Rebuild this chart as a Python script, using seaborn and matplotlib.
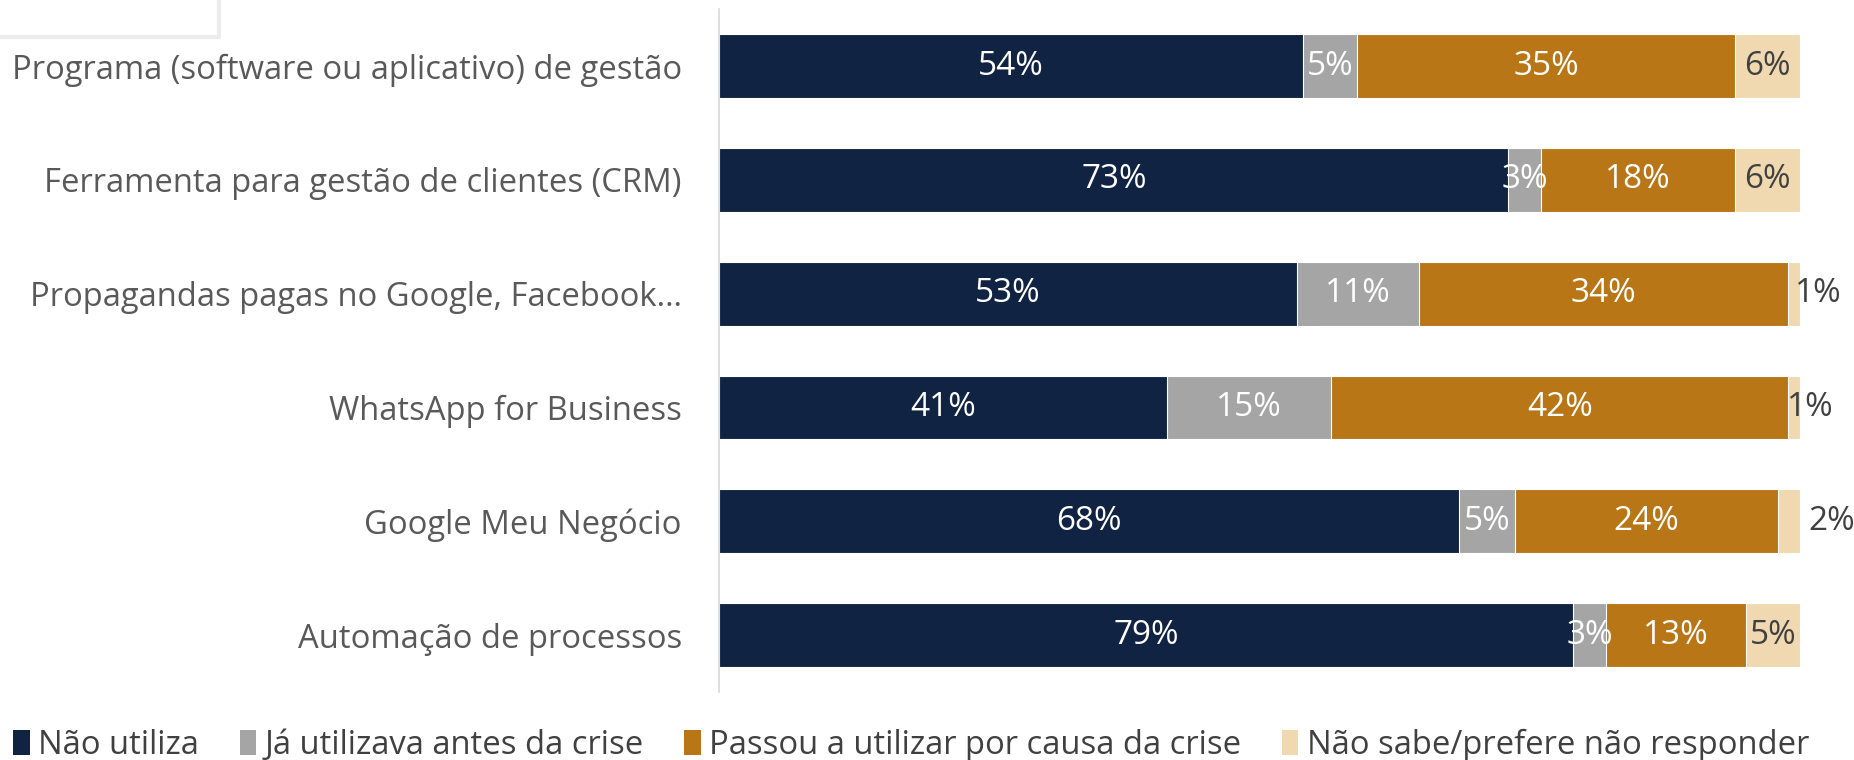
import pandas as pd
import matplotlib.pyplot as plt
import seaborn as sns
from matplotlib.patches import Patch, Rectangle

categorias = ['Programa (software ou aplicativo) de gestão',
              'Ferramenta para gestão de clientes (CRM)',
              'Propagandas pagas no Google, Facebook…',
              'WhatsApp for Business',
              'Google Meu Negócio',
              'Automação de processos']
nao_utiliza = [54, 73, 53.4, 41.4, 68.4, 79]
ja_utilizava = [5, 3, 11.3, 15.2, 5.2, 3]
passou_utilizar = [35, 18, 34.2, 42.3, 24.3, 13]
nao_sabe = [6, 6, 1.1, 1.1, 2.1, 5]
series = ['Não utiliza', 'Já utilizava antes da crise',
          'Passou a utilizar por causa da crise', 'Não sabe/prefere não responder']
cores = ['#112343', '#a5a5a5', '#b87616', '#f0d9b0']
cor_texto = ['white', 'white', 'white', '#404040']
# deslocamento manual dos rótulos pequenos (em pontos percentuais, fora da barra)
pos_rotulo_fora = {2: 101.7, 3: 100.9, 4: 102.9}

sns.set_style('white')
plt.rcParams['font.family'] = ['Open Sans', 'DejaVu Sans']

df = pd.DataFrame({'categoria': categorias,
                   series[0]: nao_utiliza,
                   series[1]: ja_utilizava,
                   series[2]: passou_utilizar,
                   series[3]: nao_sabe})
acum = df[series].cumsum(axis=1)

fig = plt.figure(figsize=(18.54, 7.6), dpi=100)
ax = fig.add_axes([0.388, 0.0895, 0.583, 0.8985])

for i in range(len(series) - 1, -1, -1):
    sns.barplot(x=acum[series[i]], y=df['categoria'], orient='h', color=cores[i],
                saturation=1, width=0.56, edgecolor='white', linewidth=0.8,
                ax=ax, zorder=2)

for i, s in enumerate(series):
    for j in range(len(categorias)):
        v = df[s][j]
        x = acum[s][j] - v / 2
        if i == 3 and j in pos_rotulo_fora:
            x = pos_rotulo_fora[j]
        ax.text(x, j, f'{v:.0f}%', ha='center', va='center', color=cor_texto[i],
                fontsize=24, clip_on=False, zorder=5)

ax.set_xlim(0, 100)
ax.set_ylim(5.5, -0.5)
ax.set_xlabel('')
ax.set_ylabel('')
ax.set_xticks([])
ax.tick_params(axis='y', length=0, pad=27, labelsize=23.6, labelcolor='#595959')
for lado in ['top', 'right', 'bottom']:
    ax.spines[lado].set_visible(False)
ax.spines['left'].set_color('#d9d9d9')
ax.spines['left'].set_linewidth(1.2)

alcas = [Patch(facecolor=c, edgecolor='none') for c in cores]
fig.legend(alcas, series, loc='center left', bbox_to_anchor=(0.0, 0.019), ncol=4,
           frameon=False, fontsize=23.6, handlelength=0.5, handleheight=0.8,
           handletextpad=0.25, columnspacing=1.25, labelcolor='#404040', borderaxespad=0)

fig.patches.append(Rectangle((-0.01, 0.951), 0.128, 0.06, transform=fig.transFigure,
                             fill=False, edgecolor='#ececec', linewidth=3))

fig.savefig('out.png', dpi=100)
